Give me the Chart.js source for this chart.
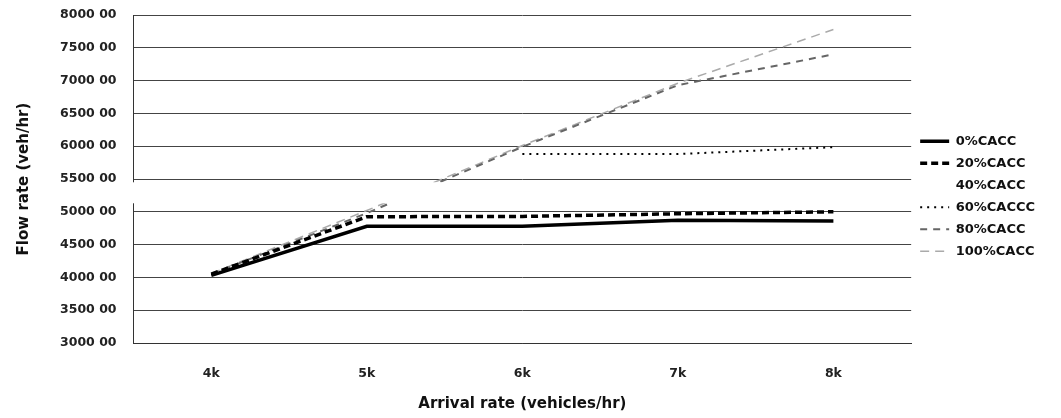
<!DOCTYPE html>
<html>
<head>
<meta charset="utf-8">
<script src="https://cdn.jsdelivr.net/npm/chart.js@4.4.0/dist/chart.umd.min.js"></script>
<style>
  html, body { margin: 0; background: #fff; }
</style>
</head>
<body>
<canvas id="flowChart" width="1061" height="418"></canvas>
<script>
// values
const arrivalRates = ["4k", "5k", "6k", "7k", "8k"];
const cacc0 = [4030, 4780, 4780, 4870, 4860];
const cacc20 = [4050, 4925, 4930, 4970, 5000];
const cacc40 = [4045, 4950, 4950, 4975, 5000];
const cacc60 = [null, null, 5880, 5880, 5985];
const cacc80 = [4050, 4980, 5990, 6930, 7400];
const cacc100 = [4060, 5020, 6010, 6960, 7780];

const FONT = '"DejaVu Sans", sans-serif';

// the scan has a blank strip across the plot between roughly 5130 and 5450
const scanGap = {
    id: "scanGap",
    afterDatasetsDraw(chart) {
        const { ctx, chartArea, scales } = chart;
        const top = scales.y.getPixelForValue(5450);
        const bottom = scales.y.getPixelForValue(5130);
        ctx.save();
        ctx.fillStyle = "#fff";
        ctx.fillRect(chartArea.left - 2, top, chartArea.right - chartArea.left + 4, bottom - top);
        ctx.restore();
    }
};

const series = (label, data, color, width, dash) => ({
    label,
    data,
    borderColor: color,
    backgroundColor: color,
    borderWidth: width,
    borderDash: dash,
    pointRadius: 0,
    tension: 0,
    spanGaps: false
});

new Chart(document.getElementById("flowChart"), {
    type: "line",
    data: {
        labels: arrivalRates,
        datasets: [
            series("0%CACC", cacc0, "#000", 3.5, []),
            series("20%CACC", cacc20, "#000", 3.5, [7, 4]),
            series("40%CACC", cacc40, "rgba(0,0,0,0)", 2, []),
            series("60%CACCC", cacc60, "#000", 2, [2, 5]),
            series("80%CACC", cacc80, "#666", 2, [7, 6]),
            series("100%CACC", cacc100, "#aaa", 1.5, [9, 6])
        ]
    },
    options: {
        responsive: false,
        animation: false,
        devicePixelRatio: 1,
        layout: { padding: { left: 11, top: 0, right: 16, bottom: 1 } },
        scales: {
            y: {
                min: 3000,
                max: 8000,
                afterFit: (scale) => {
                    // keep the tick padding from pushing the plot top down
                    scale.paddingTop = 15;
                },
                ticks: {
                    stepSize: 500,
                    padding: 17,
                    color: "#222",
                    font: { family: FONT, size: 12.5, weight: "bold" },
                    callback: (v) => v.toFixed(2).replace(".", " ")
                },
                grid: { color: "#444", lineWidth: 1, drawTicks: false },
                border: { display: true, color: "#333", width: 1 },
                title: {
                    display: true,
                    text: "Flow rate (veh/hr)",
                    color: "#111",
                    font: { family: FONT, size: 15, weight: "bold" },
                    padding: { top: 4, bottom: 10 }
                }
            },
            x: {
                offset: true,
                ticks: {
                    padding: 23,
                    color: "#222",
                    font: { family: FONT, size: 12.5, weight: "bold" }
                },
                grid: { display: false, drawTicks: false },
                border: { display: true, color: "#333", width: 1 },
                title: {
                    display: true,
                    text: "Arrival rate (vehicles/hr)",
                    color: "#111",
                    font: { family: FONT, size: 15, weight: "bold" },
                    padding: { top: -9, bottom: 4 }
                }
            }
        },
        plugins: {
            legend: {
                position: "right",
                fullSize: false,
                title: { display: true, text: " ", padding: { top: 10, bottom: 10 } },
                labels: {
                    usePointStyle: true,
                    pointStyle: "line",
                    pointStyleWidth: 29,
                    padding: 9,
                    color: "#111",
                    font: { family: FONT, size: 13, weight: "bold" },
                    generateLabels: (chart) => chart.data.datasets.map((ds, i) => ({
                        text: ds.label,
                        fillStyle: ds.borderColor,
                        strokeStyle: ds.borderColor,
                        lineWidth: ds.borderWidth,
                        lineDash: ds.borderDash,
                        pointStyle: "line",
                        hidden: false,
                        datasetIndex: i,
                        fontColor: "#111"
                    }))
                }
            },
            tooltip: { enabled: false }
        }
    },
    plugins: [scanGap]
});
</script>
</body>
</html>
